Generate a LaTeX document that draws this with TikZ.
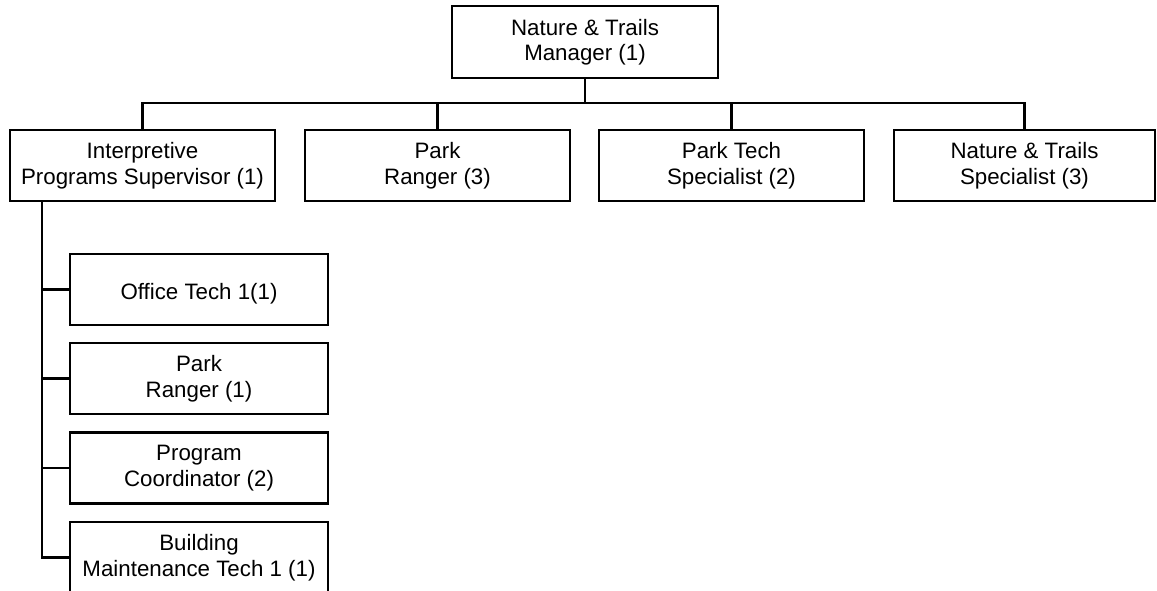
\documentclass[tikz,border=0pt]{standalone}
\usepackage{fontspec}
\setmainfont{Liberation Sans}
\begin{document}
\begin{tikzpicture}[x=1pt,y=-1pt,
  orgbox/.style={draw=black, line width=2.2pt, rectangle, align=center, inner sep=0pt,
    font=\fontsize{22.3}{25.5}\selectfont, minimum height=71pt},
  link/.style={draw=black, line width=2.2pt}]
  \useasboundingbox (0,0) rectangle (1157,590);
  \clip (0,0) rectangle (1157,590);

  % top level
  \node[orgbox, minimum width=266pt, minimum height=72pt] (mgr) at (585,42) {Nature \& Trails\\Manager (1)};

  % second level
  \node[orgbox, minimum width=265pt] (s1) at (142.5,165.5) {Interpretive\\Programs Supervisor (1)};
  \node[orgbox, minimum width=265pt] (s2) at (437.5,165.5) {Park\\Ranger (3)};
  \node[orgbox, minimum width=265pt] (s3) at (731.5,165.5) {Park Tech\\Specialist (2)};
  \node[orgbox, minimum width=261pt] (s4) at (1024.5,165.5) {Nature \& Trails\\Specialist (3)};

  % staff under the supervisor
  \node[orgbox, minimum width=258pt] (c1) at (199,289.5) {\mbox{}\\Office Tech 1(1)};
  \node[orgbox, minimum width=258pt] (c2) at (199,378.5) {Park\\Ranger (1)};
  \node[orgbox, minimum width=258pt] (c3) at (199,468) {Program\\Coordinator (2)};
  \node[orgbox, minimum width=258pt] (c4) at (199,557.5) {Building\\Maintenance Tech 1 (1)};

  % connectors
  \coordinate (bar) at (585,103);
  \coordinate (trunk) at (42,0);
  \draw[link] (mgr.south) -- (bar);
  \draw[link] (s1.north) |- (bar);
  \draw[link] (s2.north) |- (bar);
  \draw[link] (s3.north) |- (bar);
  \draw[link] (s4.north) |- (bar);

  \draw[link] (s1.south -| trunk) |- (c4.west);
  \draw[link] (c1.west -| trunk) -- (c1.west);
  \draw[link] (c2.west -| trunk) -- (c2.west);
  \draw[link] (c3.west -| trunk) -- (c3.west);
\end{tikzpicture}
\end{document}
